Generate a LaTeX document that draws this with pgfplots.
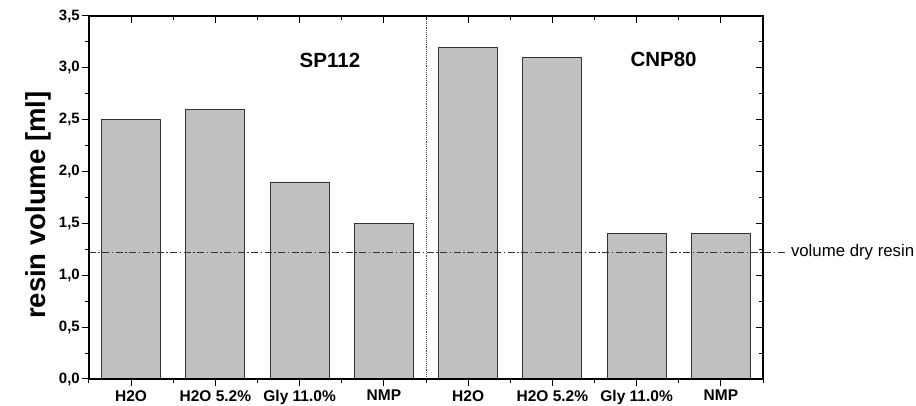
\documentclass[border=0pt]{standalone}
\usepackage{pgfplots}
\pgfplotsset{compat=1.18}
\usepackage{fontspec}
\setmainfont{Liberation Sans}
\definecolor{barfill}{RGB}{192,192,192}
\begin{document}
\begin{tikzpicture}
\useasboundingbox (-89pt,-27pt) rectangle (827pt,379pt);
\begin{axis}[
  at={(0pt,0pt)}, anchor=south west,
  scale only axis, width=674pt, height=363pt,
  xmin=0.5, xmax=8.5, ymin=0, ymax=3.5,
  clip=false,
  axis line style={line width=1.1pt},
  xtick={1,...,8},
  xticklabels={H2O,H2O 5.2\%,Gly 11.0\%,NMP,H2O,H2O 5.2\%,Gly 11.0\%,NMP},
  minor xtick={0.5,1.5,...,8.5},
  ytick={0,0.5,...,3.5},
  minor ytick={0.25,0.75,...,3.25},
  tick align=outside,
  xtick pos=left, ytick pos=left,
  major tick length=7pt, minor tick length=4pt,
  every tick/.style={black, line width=1pt},
  /pgf/number format/assume math mode=true,
  ticklabel style={font=\fontsize{15}{17}\selectfont\bfseries},
  xticklabel style={inner sep=1pt, yshift=-3pt, font=\fontsize{15.5}{17}\selectfont\bfseries},
  yticklabel style={inner sep=2pt, /pgf/number format/.cd, fixed, fixed zerofill, precision=1, use comma},
  ylabel={resin volume [ml]},
  ylabel style={font=\fontsize{27.5}{31}\selectfont\bfseries, at={(axis description cs:-0.075,0.479)}, anchor=center},
]
\addplot[ybar, bar width=0.7, fill=barfill, draw=black!80, line width=0.8pt]
  coordinates {(1,2.5) (2,2.6) (3,1.9) (4,1.5) (5,3.2) (6,3.1) (7,1.4) (8,1.4)};
\addplot[densely dotted, gray!60!black, line width=0.9pt] coordinates {(4.5,0) (4.5,3.5)};
\addplot[gray!40!black, line width=0.8pt, dash pattern=on 7pt off 2.5pt on 1.5pt off 2.5pt]
  coordinates {(0.5,1.22) (8.76,1.22)};
\node[anchor=west, inner sep=0pt, font=\fontsize{16.8}{18}\selectfont] at (axis cs:8.83,1.22) {volume dry resin};
\node[font=\fontsize{20.5}{23}\selectfont\bfseries] at (axis cs:3.36,3.07) {SP112};
\node[font=\fontsize{20.5}{23}\selectfont\bfseries] at (axis cs:7.32,3.08) {CNP80};
\end{axis}
\begin{axis}[
  at={(0pt,0pt)}, anchor=south west,
  scale only axis, width=674pt, height=363pt,
  xmin=0.5, xmax=8.5, ymin=0, ymax=3.5,
  axis line style={line width=1.1pt},
  xtick={1,...,8}, minor xtick={0.5,1.5,...,8.5},
  ytick={0,0.5,...,3.5}, minor ytick={0.25,0.75,...,3.25},
  tick align=inside,
  xtick pos=right, ytick pos=right,
  major tick length=7pt, minor tick length=4pt,
  every tick/.style={black, line width=1pt},
  xticklabels={}, yticklabels={},
]
\end{axis}
\end{tikzpicture}
\end{document}
